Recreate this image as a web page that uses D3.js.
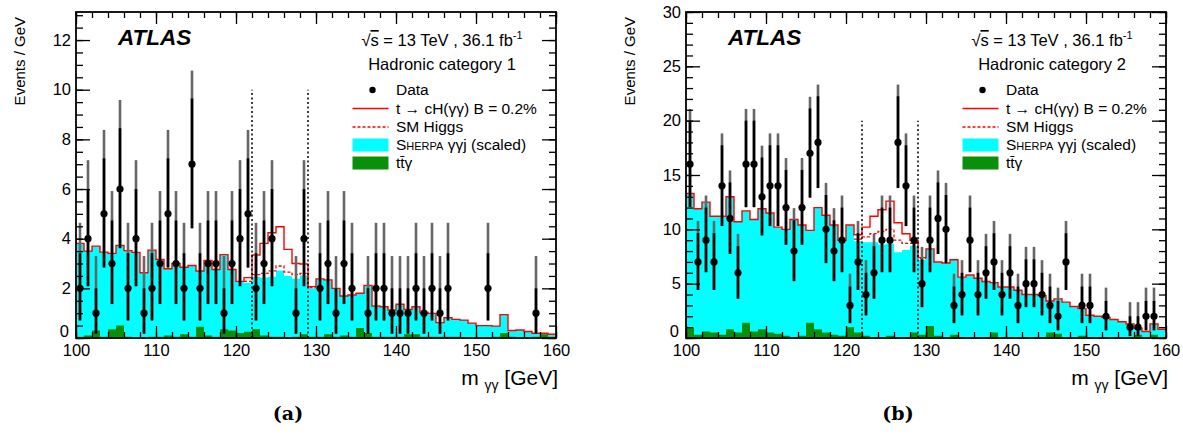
<!DOCTYPE html>
<html>
<head>
<meta charset="utf-8">
<script src="https://cdn.jsdelivr.net/npm/d3@7"></script>
<style>
  body { margin: 0; background: #fff; }
  svg { display: block; font-family: "Liberation Sans", Arial, sans-serif; }
</style>
</head>
<body>
<svg id="chart" width="1183" height="439"></svg>
<script>
// m_gammagamma binning: 60 bins of 1 GeV
const massMin = 100;
const massMax = 160;
const nBins = 60;
const massTicks = [100, 110, 120, 130, 140, 150, 160];
const windowEdges = [122, 129];

// Hadronic category 1
const dataA = [2, 4, 1, 5, 3, 6, 2, 4, 1, 2, 3, 5, 3, 2, 7, 2, 3, 3, 1, 3,
  4, 5, 2, 3, 4, 0, 0, 1, 4, 0, 2, 3, 1, 3, 2, 0, 1, 2, 2, 1,
  1, 1, 2, 1, 2, 1, 2, 0, 0, 0, 0, 2, 0, 0, 0, 0, 0, 1, 0, 0];
const bkgA = [3.81, 3.50, 3.70, 3.46, 3.41, 3.73, 3.52, 3.45, 2.63, 3.54,
  3.16, 2.79, 3.00, 2.85, 2.92, 2.70, 3.12, 2.76, 3.36, 2.76,
  2.28, 2.23, 2.47, 2.44, 2.47, 2.72, 2.50, 2.39, 2.52, 2.00,
  2.38, 2.34, 2.00, 1.69, 1.73, 1.80, 2.12, 1.29, 1.26, 1.13,
  1.36, 1.15, 1.26, 1.03, 0.99, 0.62, 0.82, 0.75, 0.72, 0.60,
  0.50, 0.50, 0.48, 0.94, 0.30, 0.32, 0.26, 0.19, 0.19, 0.15];
const ttgA = [0.05, 0.10, 0.30, 0.05, 0.35, 0.50, 0.05, 0.00, 0.02, 0.05,
  0.05, 0.10, 0.05, 0.15, 0.05, 0.45, 0.10, 0.05, 0.35, 0.30,
  0.20, 0.25, 0.35, 0.10, 0.05, 0.05, 0.02, 0.05, 0.15, 0.05,
  0.05, 0.15, 0.05, 0.10, 0.05, 0.40, 0.20, 0.05, 0.05, 0.05,
  0.05, 0.15, 0.15, 0.05, 0.05, 0.05, 0.05, 0.05, 0.02, 0.02,
  0.02, 0.02, 0.05, 0.20, 0.05, 0.02, 0.02, 0.05, 0.15, 0.05];
const smA = [0, 0, 0, 0, 0, 0, 0, 0, 0, 0, 0, 0, 0, 0, 0, 0, 0, 0, 0, 0,
  0, 0.05, 0.08, 0.16, 0.23, 0.18, 0.15, 0.16, 0.08, 0.03,
  0, 0, 0, 0, 0, 0, 0, 0, 0, 0, 0, 0, 0, 0, 0, 0, 0, 0, 0, 0,
  0, 0, 0, 0, 0, 0, 0, 0, 0, 0];
const sigA = [0, 0, 0, 0, 0, 0, 0, 0, 0, 0, 0, 0, 0, 0, 0, 0, 0, 0, 0, 0,
  0, 0.15, 0.79, 1.21, 1.54, 1.58, 0.92, 0.45, 0.38, 0.04,
  0, 0, 0, 0, 0, 0, 0, 0, 0, 0, 0, 0, 0, 0, 0, 0, 0, 0, 0, 0,
  0, 0, 0, 0, 0, 0, 0, 0, 0, 0];

// Hadronic category 2
const dataB = [16, 7, 9, 7, 14, 11, 6, 16, 16, 13, 14, 14, 12, 8, 12, 17, 18, 10, 8, 9,
  3, 7, 4, 6, 9, 9, 18, 14, 9, 5, 9, 11, 10, 3, 4, 9, 4, 6, 7, 4,
  6, 3, 5, 5, 4, 3, 2, 7, 0, 3, 3, 0, 2, 0, 0, 1, 1, 2, 2, 0];
const bkgB = [13.3, 11.9, 12.5, 11.2, 11.2, 13.0, 10.7, 11.7, 10.9, 11.9,
  11.5, 10.2, 10.0, 10.9, 10.4, 9.9, 12.0, 11.3, 10.4, 9.0,
  10.4, 8.9, 8.8, 8.8, 8.6, 8.7, 7.9, 8.1, 8.5, 7.2,
  8.2, 7.0, 6.9, 7.2, 5.6, 5.8, 5.5, 5.2, 5.1, 4.7,
  4.7, 4.4, 4.0, 4.0, 3.9, 3.4, 3.6, 3.3, 2.9, 2.7,
  2.1, 2.0, 1.9, 1.7, 1.5, 1.3, 0.9, 0.6, 1.3, 0.8];
const ttgB = [1.0, 0.3, 0.6, 0.5, 0.3, 0.8, 0.5, 1.4, 0.6, 0.8,
  0.5, 0.4, 0.2, 0.1, 0.2, 1.4, 0.8, 0.5, 0.3, 0.2,
  1.0, 0.5, 0.2, 0.1, 0.1, 0.2, 0.1, 0.1, 0.5, 0.3,
  1.1, 0.2, 0.1, 0.3, 0.1, 0.1, 0.1, 0.1, 0.5, 0.1,
  0.1, 0.1, 0.1, 0.1, 0.1, 0.5, 0.4, 0.1, 0.1, 0.2,
  0.1, 0.1, 0.1, 0.1, 0.1, 0.1, 0.3, 0.1, 0.3, 0.1];
const smB = [0, 0, 0, 0, 0, 0, 0, 0, 0, 0, 0, 0, 0, 0, 0, 0, 0, 0, 0, 0,
  0, 0.2, 0.5, 0.8, 1.2, 1.3, 1.1, 0.6, 0.2, 0.1,
  0, 0, 0, 0, 0, 0, 0, 0, 0, 0, 0, 0, 0, 0, 0, 0, 0, 0, 0, 0,
  0, 0, 0, 0, 0, 0, 0, 0, 0, 0];
const sigB = [0, 0, 0, 0, 0, 0, 0, 0, 0, 0, 0, 0, 0, 0, 0, 0, 0, 0, 0, 0,
  0, 0.4, 0.9, 1.6, 2.0, 2.6, 1.6, 0.9, 0.3, 0.1,
  0, 0, 0, 0, 0, 0, 0, 0, 0, 0, 0, 0, 0, 0, 0, 0, 0, 0, 0, 0,
  0, 0, 0, 0, 0, 0, 0, 0, 0, 0];

// 68% Poisson interval limits for n = 0..18 observed events
const poissonLo = [0, 0.173, 0.708, 1.367, 2.086, 2.840, 3.620, 4.419, 5.232, 6.057,
  6.891, 7.734, 8.585, 9.441, 10.30, 11.17, 12.04, 12.92, 13.80];
const poissonHi = [1.841, 3.300, 4.638, 5.918, 7.163, 8.382, 9.584, 10.77, 11.95, 13.11,
  14.27, 15.42, 16.56, 17.70, 18.83, 19.96, 21.08, 22.20, 23.32];

const panels = [
  { tag: 'a', left: 76, category: 'Hadronic category 1', yMax: 13.13, yMajor: d3.range(0, 13, 2), yMinor: d3.range(0, 13.1, 0.5),
    windowTop: 10, data: dataA, bkg: bkgA, ttg: ttgA, sm: smA, sig: sigA },
  { tag: 'b', left: 686, category: 'Hadronic category 2', yMax: 30, yMajor: d3.range(0, 31, 5), yMinor: d3.range(0, 31, 1),
    windowTop: 20, data: dataB, bkg: bkgB, ttg: ttgB, sm: smB, sig: sigB },
];

const svg = d3.select('#chart');
svg.append('rect').attr('width', 1183).attr('height', 439).attr('fill', '#fff');

const frameW = 480;
const frameTop = 12;
const frameBottom = 338;

function drawPanel(p) {
  const x = d3.scaleLinear([massMin, massMax], [p.left, p.left + frameW]);
  const y = d3.scaleLinear([0, p.yMax], [frameBottom, frameTop]);
  const g = svg.append('g');

  const clipId = `clip-${p.tag}`;
  svg.append('clipPath').attr('id', clipId)
    .append('rect')
    .attr('x', p.left).attr('y', frameTop)
    .attr('width', frameW).attr('height', frameBottom - frameTop);
  const plot = g.append('g').attr('clip-path', `url(#${clipId})`);

  const edges = d3.range(nBins + 1).map((i) => massMin + i);
  const steps = (vals) => edges.map((e, i) => [e, vals[Math.min(i, nBins - 1)]]);
  const area = d3.area().curve(d3.curveStepAfter)
    .x((d) => x(d[0])).y0(y(0)).y1((d) => y(d[1]));
  const line = d3.line().curve(d3.curveStepAfter)
    .x((d) => x(d[0])).y((d) => y(d[1]));

  const withSm = p.bkg.map((b, i) => b + p.sm[i]);
  const total = withSm.map((b, i) => b + p.sig[i]);

  // Sherpa gamma-gamma-j (stacked total background) and ttgamma
  plot.append('path').attr('d', area(steps(p.bkg))).attr('fill', '#00ffff');
  plot.append('path').attr('d', area(steps(p.ttg))).attr('fill', '#0a8f0a');

  // total with signal (solid) and with SM Higgs only (dashed)
  plot.append('path').attr('d', line(steps(total)))
    .attr('fill', 'none').attr('stroke', '#ff0000').attr('stroke-width', 1.4);
  const smBins = d3.range(nBins).filter((i) => p.sm[i] > 0);
  const smFirst = d3.min(smBins);
  const smLast = d3.max(smBins);
  const smPts = d3.range(smFirst, smLast + 2).map((i) => [massMin + i, withSm[Math.min(i, smLast)]]);
  plot.append('path').attr('d', line(smPts))
    .attr('fill', 'none').attr('stroke', '#ff0000').attr('stroke-width', 1.3)
    .attr('stroke-dasharray', '3,2');

  // mass window
  plot.selectAll('line.window').data(windowEdges).enter().append('line')
    .attr('class', 'window')
    .attr('x1', (d) => x(d)).attr('x2', (d) => x(d))
    .attr('y1', y(0)).attr('y2', y(p.windowTop))
    .attr('stroke', '#000').attr('stroke-width', 1.5).attr('stroke-dasharray', '2,2.5');

  // data
  const pts = p.data.map((n, i) => ({ n, m: massMin + i + 0.5 })).filter((d) => d.n > 0);
  const dg = plot.append('g');
  dg.selectAll('line.pois').data(pts).enter().append('line')
    .attr('x1', (d) => x(d.m)).attr('x2', (d) => x(d.m))
    .attr('y1', (d) => y(poissonLo[d.n])).attr('y2', (d) => y(poissonHi[d.n]))
    .attr('stroke', '#666').attr('stroke-width', 2.6);
  dg.selectAll('line.stat').data(pts).enter().append('line')
    .attr('x1', (d) => x(d.m)).attr('x2', (d) => x(d.m))
    .attr('y1', (d) => y(Math.max(poissonLo[d.n], d.n - Math.sqrt(d.n))))
    .attr('y2', (d) => y(Math.min(poissonHi[d.n], d.n + Math.sqrt(d.n))))
    .attr('stroke', '#000').attr('stroke-width', 2.6);
  dg.selectAll('circle').data(pts).enter().append('circle')
    .attr('cx', (d) => x(d.m)).attr('cy', (d) => y(d.n)).attr('r', 3.6)
    .attr('fill', '#000');

  // axes, ticks pointing inwards on all four sides
  const xMinor = d3.range(massMin, massMax + 1, 2);
  const styleAxis = (sel) => {
    sel.select('.domain').remove();
    sel.selectAll('line').attr('stroke', '#000').attr('stroke-width', 1.3);
    sel.attr('font-family', null).attr('font-size', 16.5);
    sel.selectAll('text').attr('fill', '#000');
  };
  g.append('g').attr('transform', `translate(${p.left},0)`)
    .call(d3.axisLeft(y).tickValues(p.yMajor).tickSizeInner(-14).tickSizeOuter(0)
      .tickPadding(5).tickFormat(d3.format('d')))
    .call(styleAxis)
    .selectAll('text').filter((d) => d === 0)
    .attr('dy', '0.32em').attr('transform', 'translate(-2,-7)');
  g.append('g').attr('transform', `translate(${p.left},0)`)
    .call(d3.axisLeft(y).tickValues(p.yMinor).tickSize(-7).tickFormat(''))
    .call(styleAxis);
  g.append('g').attr('transform', `translate(${p.left + frameW},0)`)
    .call(d3.axisRight(y).tickValues(p.yMajor).tickSize(-14).tickFormat(''))
    .call(styleAxis);
  g.append('g').attr('transform', `translate(${p.left + frameW},0)`)
    .call(d3.axisRight(y).tickValues(p.yMinor).tickSize(-7).tickFormat(''))
    .call(styleAxis);
  g.append('g').attr('transform', `translate(0,${frameBottom})`)
    .call(d3.axisBottom(x).tickValues(massTicks).tickSizeInner(-12).tickSizeOuter(0)
      .tickPadding(6).tickFormat(d3.format('d')))
    .call(styleAxis);
  g.append('g').attr('transform', `translate(0,${frameBottom})`)
    .call(d3.axisBottom(x).tickValues(xMinor).tickSize(-6).tickFormat(''))
    .call(styleAxis);
  g.append('g').attr('transform', `translate(0,${frameTop})`)
    .call(d3.axisTop(x).tickValues(massTicks).tickSize(-12).tickFormat(''))
    .call(styleAxis);
  g.append('g').attr('transform', `translate(0,${frameTop})`)
    .call(d3.axisTop(x).tickValues(xMinor).tickSize(-6).tickFormat(''))
    .call(styleAxis);

  g.append('rect')
    .attr('x', p.left).attr('y', frameTop)
    .attr('width', frameW).attr('height', frameBottom - frameTop)
    .attr('fill', 'none').attr('stroke', '#000').attr('stroke-width', 1.8);

  // axis titles
  g.append('text')
    .attr('transform', `translate(${p.left - 51},17) rotate(-90)`)
    .attr('text-anchor', 'end').attr('font-size', 15)
    .text('Events / GeV');
  const xt = g.append('text')
    .attr('x', p.left + frameW + 2).attr('y', 385)
    .attr('text-anchor', 'end').attr('font-size', 21);
  xt.append('tspan').text('m ');
  xt.append('tspan').attr('font-size', 14).attr('dy', 5).text('γγ');
  xt.append('tspan').attr('dy', -5).text(' [GeV]');

  // labels
  g.append('text')
    .attr('x', p.left + 42).attr('y', 45)
    .attr('font-size', 22.5).attr('font-weight', 'bold').attr('font-style', 'italic')
    .text('ATLAS');
  const hdr = g.append('text')
    .attr('x', p.left + 366).attr('y', 46)
    .attr('text-anchor', 'middle').attr('font-size', 16.5);
  hdr.append('tspan').text('√');
  hdr.append('tspan').attr('text-decoration', 'overline').text('s');
  hdr.append('tspan').text(' = 13 TeV , 36.1 fb');
  hdr.append('tspan').attr('font-size', 11).attr('dy', -7).text('-1');
  g.append('text')
    .attr('x', p.left + 366).attr('y', 70)
    .attr('text-anchor', 'middle').attr('font-size', 16.5)
    .text(p.category);

  // legend
  const lx = p.left + 294.5;
  const tx = p.left + 320;
  const rows = [90, 108.5, 127, 145, 163];
  const leg = g.append('g').attr('font-size', 15.5);
  leg.append('circle').attr('cx', lx + 2).attr('cy', rows[0]).attr('r', 3.2).attr('fill', '#000');
  leg.append('line').attr('x1', lx - 18).attr('x2', lx + 18).attr('y1', rows[1]).attr('y2', rows[1])
    .attr('stroke', '#ff0000').attr('stroke-width', 1.5);
  leg.append('line').attr('x1', lx - 18).attr('x2', lx + 18).attr('y1', rows[2]).attr('y2', rows[2])
    .attr('stroke', '#ff0000').attr('stroke-width', 1.3).attr('stroke-dasharray', '3,2');
  leg.append('rect').attr('x', lx - 18).attr('y', rows[3] - 6.5).attr('width', 36).attr('height', 13)
    .attr('fill', '#00ffff');
  leg.append('rect').attr('x', lx - 18).attr('y', rows[4] - 6.5).attr('width', 36).attr('height', 13)
    .attr('fill', '#0a8f0a');
  leg.append('text').attr('x', tx).attr('y', rows[0] + 5).text('Data');
  leg.append('text').attr('x', tx).attr('y', rows[1] + 5).text('t → cH(γγ) B = 0.2%');
  leg.append('text').attr('x', tx).attr('y', rows[2] + 5).text('SM Higgs');
  const sh = leg.append('text').attr('x', tx).attr('y', rows[3] + 5);
  sh.append('tspan').attr('font-variant', 'small-caps').text('Sherpa');
  sh.append('tspan').text(' γγj (scaled)');
  leg.append('text').attr('x', tx).attr('y', rows[4] + 5).text('tt\u0304γ');

  // sub-figure tag
  g.append('text')
    .attr('x', p.left + 212).attr('y', 420)
    .attr('text-anchor', 'middle')
    .attr('font-family', '"DejaVu Serif", serif').attr('font-weight', 'bold').attr('font-size', 19)
    .text(`(${p.tag})`);
}

panels.forEach(drawPanel);
</script>
</body>
</html>
